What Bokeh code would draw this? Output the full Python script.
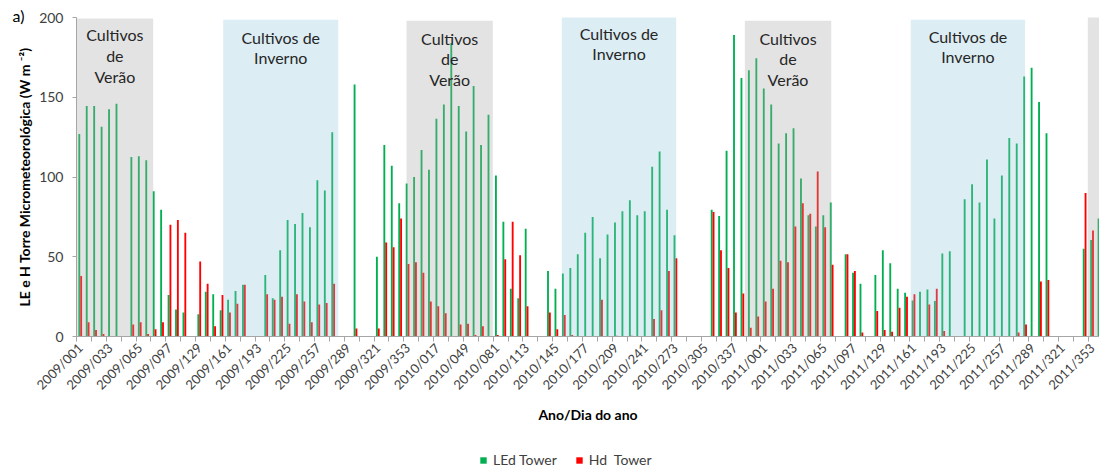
import numpy as np
from bokeh.plotting import figure
from bokeh.layouts import column
from bokeh.models import Range1d, FixedTicker, ColumnDataSource, Legend, LegendItem
from bokeh.core.properties import value
from bokeh.embed import file_html
from bokeh.resources import INLINE

# 8-day composite periods, 2009-2011 (46 per year)
years = [2009, 2010, 2011]
days = list(range(1, 362, 8))
periods = [f"{y}/{d:03d}" for y in years for d in days]

# labelled periods (every 4th composite)
tick_labels = [
    "2009/001", "2009/033", "2009/065", "2009/097", "2009/129", "2009/161",
    "2009/193", "2009/225", "2009/257", "2009/289", "2009/321", "2009/353",
    "2010/017", "2010/049", "2010/081", "2010/113", "2010/145", "2010/177",
    "2010/209", "2010/241", "2010/273", "2010/305", "2010/337",
    "2011/001", "2011/033", "2011/065", "2011/097", "2011/129", "2011/161",
    "2011/193", "2011/225", "2011/257", "2011/289", "2011/321", "2011/353",
]

# latent heat flux, tower (W m-2); None = no data
led_tower = [
    127, 144.5, 144.5, 131.5, 142.5, 146, None, 112.5, 113, 110.5,
    91, 79.5, 26, 17, 15, None, 14, 28, 26.5, 16.5,
    23, 28.5, 32.5, None, None, 38.5, 24, 54, 73, 70.5,
    77.5, 68.5, 98, 91.5, 128, None, None, 158, None, None,
    50, 120, 107, 83.5, 96, 100, 117, 104.5, 136.5, 145.5,
    184, 144.5, 128.5, 157, 120, 139, 101, 72, 30, 24,
    67.5, None, None, 41, 30, 39.5, 43, 51.5, 65, 75,
    49, 64, 71.5, 78.5, 85.5, 76, 78.5, 106.5, 116, 79.5,
    63.5, None, None, None, None, 79.5, 75.5, 116.5, 189, 162,
    167, 174.5, 155.5, 145.5, 121, 127.5, 130.5, 99, 76, 69,
    76, 84, None, 51.5, 40, 33, None, 38.5, 54, 46,
    30, 27.5, 22.5, 28, 29.5, 22.3, 52, 53.5, None, 86,
    95.5, 84, 111, 74, 101, 124.5, 121, 163, 168.5, 147,
    127.5, None, None, None, None, 55, 60.5, 74,
]

# sensible heat flux, tower (W m-2)
hd_tower = [
    38, 9, 4, 1.5, None, None, None, 7.5, 9, 1.5,
    4.5, 9, 70, 73, 65, None, 47, 33, 6.5, 26,
    15, 20.5, 32.5, None, None, 26.5, 23, 25, 8, 26.5,
    22, 9, 20, 21, 33, None, None, 5, None, None,
    5, 59, 56, 74, 45.5, 46.5, 40, 22, 19, 14.5,
    None, 7.5, 8, 1, 6.5, None, 1, 48.5, 72, 51,
    19, None, None, 15, 4.5, 13.5, 1, None, None, None,
    23, None, 0.5, None, 0.5, None, None, 11, 16.5, 41,
    49, None, None, None, None, 78, 54, 43, 15, 27,
    5.5, 12.5, 22, 30, 47.5, 46.5, 69, 83.5, 77, 103.5,
    68.5, 45, None, 51.5, 41, 2.5, None, 16, 4, 3,
    18, 25, 26.5, None, 20, 30, 3.5, None, None, None,
    None, None, None, None, None, None, 2.5, 7.5, None, 34.5,
    35.5, None, None, None, None, 90, 66.5, None,
]

GREEN = "#00B050"
RED = "#FF0000"
FONT = "Lato"

idx = np.arange(len(periods))
src = ColumnDataSource(dict(
    x_led=idx - 0.125,
    x_hd=idx + 0.125,
    led=np.array(led_tower, dtype=float),
    hd=np.array(hd_tower, dtype=float),
))

p = figure(
    width=1099, height=445,
    x_range=Range1d(-0.5, 137.0), y_range=Range1d(0, 200),
    output_backend="svg", toolbar_location=None,
    min_border_left=76, min_border_right=0,
    min_border_top=17, min_border_bottom=109,
)
p.outline_line_color = None
p.xgrid.visible = False
p.ygrid.visible = False

# panel tag in the top-left corner
p.title.text = "a)"
p.title.align = "left"
p.title.vertical_align = "top"
p.title.offset = -64
p.title.standoff = -18
p.title.text_font = FONT
p.title.text_font_style = "normal"
p.title.text_font_size = "16px"
p.title.text_color = "#000000"

p.vbar(x="x_led", top="led", width=0.25, bottom=0, source=src,
       fill_color=GREEN, line_color=None)
p.vbar(x="x_hd", top="hd", width=0.25, bottom=0, source=src,
       fill_color=RED, line_color=None)

# crop-season shading, drawn translucent over the bars
seasons = [
    # left, right, top, kind, first-line y
    (-0.5, 9.81, 199.4, "summer", 189.2),
    (19.22, 34.68, 198.6, "winter", 187.6),
    (43.86, 55.46, 198.0, "summer", 187.0),
    (64.73, 80.1, 200.6, "winter", 189.8),
    (89.33, 100.94, 198.0, "summer", 187.0),
    (111.64, 127.0, 198.6, "winter", 188.1),
    (135.43, 140.0, 200.6, "summer", None),
]
for left, right, top, kind, ty in seasons:
    if kind == "summer":
        p.quad(left=left, right=right, bottom=0, top=top,
               fill_color="#a9a9a9", fill_alpha=0.32, line_color=None)
        lines = ["Cultivos", "de", "Verão"]
        step = 13.0
    else:
        p.quad(left=left, right=right, bottom=0, top=top,
               fill_color="#8cc3db", fill_alpha=0.30, line_color=None)
        lines = ["Cultivos de", "Inverno"]
        step = 12.6
    if ty is None:
        continue
    cx = (left + right) / 2
    p.text(x=[cx] * len(lines), y=[ty - k * step for k in range(len(lines))],
           text=lines, text_font=value(FONT), text_font_size="16px",
           text_align="center", text_baseline="middle", text_color="#262626")

# x axis: labels on every 4th period, ticks between every 2nd
xa = p.xaxis[0]
xa.ticker = FixedTicker(ticks=list(range(0, 137, 4)),
                        minor_ticks=[-0.5 + 2 * k for k in range(70)])
xa.major_label_overrides = {i * 4: lab for i, lab in enumerate(tick_labels)}
xa.major_label_orientation = np.pi / 4
xa.major_tick_line_color = None
xa.major_tick_out = 5
xa.minor_tick_out = 5
xa.minor_tick_in = 0
xa.minor_tick_line_color = "#a6a6a6"
xa.axis_line_color = "#a6a6a6"
xa.major_label_text_font = FONT
xa.major_label_text_font_size = "13px"
xa.major_label_text_color = "#404040"
xa.major_label_standoff = 4
xa.axis_label = "Ano/Dia do ano"
xa.axis_label_text_font = FONT
xa.axis_label_text_font_style = "bold"
xa.axis_label_text_font_size = "14px"
xa.axis_label_text_color = "#000000"
xa.axis_label_standoff = 5

ya = p.yaxis[0]
ya.ticker = FixedTicker(ticks=[0, 50, 100, 150, 200], minor_ticks=[])
ya.axis_line_color = "#a6a6a6"
ya.major_tick_line_color = "#a6a6a6"
ya.major_tick_out = 4
ya.major_tick_in = 0
ya.major_label_text_font = FONT
ya.major_label_text_font_size = "14px"
ya.major_label_text_color = "#404040"
ya.major_label_standoff = 9
ya.axis_label = "LE e H Torre Micrometeorológica (W m ⁻²)"
ya.axis_label_text_font = FONT
ya.axis_label_text_font_style = "bold"
ya.axis_label_text_font_size = "14px"
ya.axis_label_text_color = "#000000"
ya.axis_label_standoff = 3

# legend strip under the chart (its frame lines up with the chart frame)
key = figure(
    width=1099, height=25,
    x_range=Range1d(0, 1), y_range=Range1d(0, 1),
    output_backend="svg", toolbar_location=None,
    min_border=0, min_border_left=0, min_border_right=0,
    min_border_top=0, min_border_bottom=0,
)
key.axis.visible = False
key.xgrid.visible = False
key.ygrid.visible = False
key.outline_line_color = None
# swatch renderers hold no drawable points; only their legend glyphs show
g_key = key.vbar(x=[np.nan], top=[np.nan], width=0.1, fill_color=GREEN, line_color=None)
r_key = key.vbar(x=[np.nan], top=[np.nan], width=0.1, fill_color=RED, line_color=None)
legend = Legend(
    items=[LegendItem(label="LEd Tower", renderers=[g_key]),
           LegendItem(label="Hd  Tower", renderers=[r_key])],
    orientation="horizontal", location=(403, 2),
    glyph_width=8, glyph_height=8, label_standoff=6, spacing=18,
    padding=0, margin=0, border_line_color=None, background_fill_alpha=0,
    label_text_font=FONT, label_text_font_size="14px", label_text_color="#404040",
)
key.add_layout(legend, "center")

page = column(p, key, spacing=0)
open("out.html", "w").write(file_html(page, INLINE))
